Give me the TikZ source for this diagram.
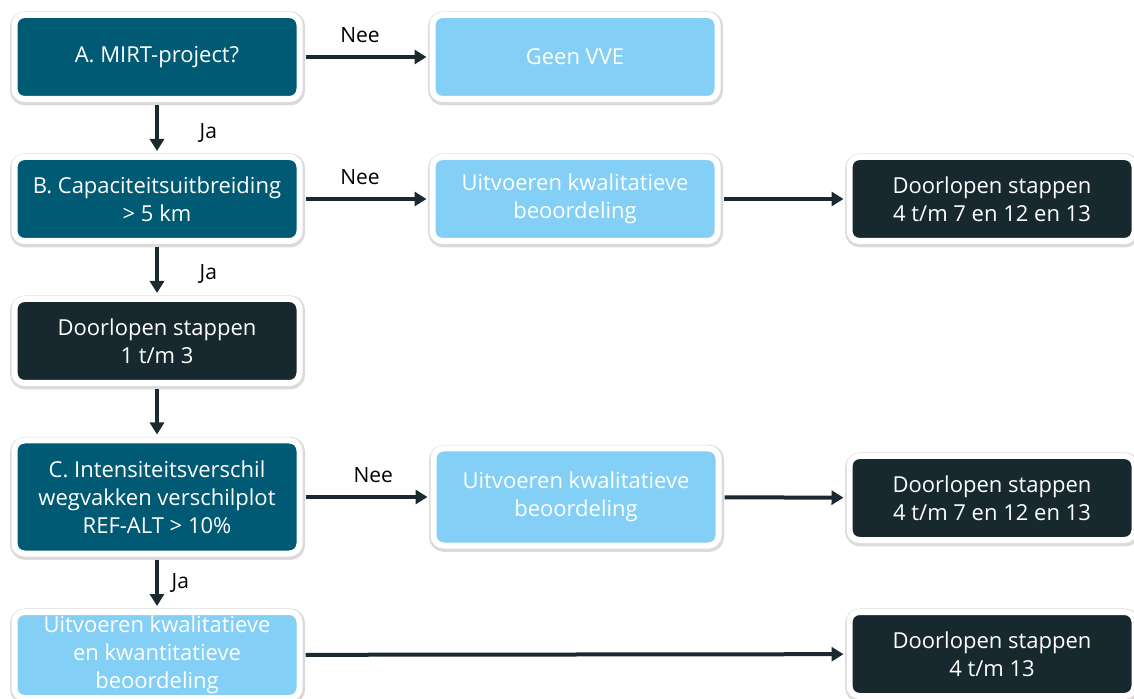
\documentclass[tikz,border=0pt]{standalone}
\usepackage{fontspec}
\setmainfont{Open Sans}
\usetikzlibrary{arrows.meta}
\definecolor{rwsteal}{RGB}{0,90,115}
\definecolor{rwslight}{RGB}{132,207,245}
\definecolor{rwsdark}{RGB}{24,40,47}
\definecolor{rwsarrow}{RGB}{27,42,48}
\tikzset{
  box/.style={rectangle, rounded corners=5pt, draw=white, line width=3pt,
    minimum width=142.5pt, minimum height=42pt, align=center, text=white,
    font=\fontsize{11}{14}\selectfont, inner sep=2pt,
    preaction={draw=black!14, line width=5pt, transform canvas={xshift=0.3pt, yshift=-0.7pt}}},
  qbox/.style={box, fill=rwsteal},
  abox/.style={box, fill=rwslight},
  sbox/.style={box, fill=rwsdark},
  flow/.style={-{Triangle[length=6pt,width=7pt]}, rwsarrow, line width=2pt,
    shorten >=1.5pt, shorten <=1.5pt},
  lab/.style={font=\fontsize{10.5}{12}\selectfont, text=black},
}
\begin{document}
\begin{tikzpicture}[x=0.5pt, y=-0.5pt]
  \useasboundingbox (0,0) rectangle (1134,699);
  % column 1: questions
  \node[qbox] (mirt) at (157,57) {A. MIRT-project?};
  \node[qbox] (capa) at (157,199) {B. Capaciteitsuitbreiding\\> 5 km};
  \node[sbox] (st13) at (157,341) {Doorlopen stappen\\1 t/m 3};
  \node[qbox, minimum height=56.5pt] (inte) at (157,497) {C. Intensiteitsverschil\\wegvakken verschilplot\\REF-ALT > 10\%};
  \node[abox, minimum height=43pt] (kwkw) at (157,655) {Uitvoeren kwalitatieve\\en kwantitatieve\\beoordeling};
  % column 2
  \node[abox] (gvve) at (575,57) {Geen VVE};
  \node[abox] (kwa1) at (575,199) {Uitvoeren kwalitatieve\\beoordeling};
  \node[abox, minimum height=48.5pt] (kwa2) at (576,497) {Uitvoeren kwalitatieve\\beoordeling};
  % column 3
  \node[sbox] (st47a) at (992,199) {Doorlopen stappen\\4 t/m 7 en 12 en 13};
  \node[sbox] (st47b) at (992,498) {Doorlopen stappen\\4 t/m 7 en 12 en 13};
  \node[sbox] (st413) at (992,654) {Doorlopen stappen\\4 t/m 13};
  % connectors
  \draw[flow] (mirt) -- (capa) node[lab, midway, right=17pt, yshift=-2.5pt] {Ja};
  \draw[flow] (capa) -- (st13) node[lab, midway, right=17pt, yshift=-2pt] {Ja};
  \draw[flow] (st13) -- (inte);
  \draw[flow] (inte) -- (kwkw) node[lab, midway, right=3pt] {Ja};
  \draw[flow] (mirt) -- (gvve) node[lab, midway, above=3pt, xshift=-3pt] {Nee};
  \draw[flow] (capa) -- (kwa1) node[lab, midway, above=3pt, xshift=-3pt] {Nee};
  \draw[flow] (inte) -- (kwa2) node[lab, pos=0.6, above=3pt, xshift=-3pt] {Nee};
  \draw[flow] (kwa1) -- (st47a);
  \draw[flow] (kwa2) -- (st47b);
  \draw[flow] (kwkw) -- (st413);
\end{tikzpicture}
\end{document}
